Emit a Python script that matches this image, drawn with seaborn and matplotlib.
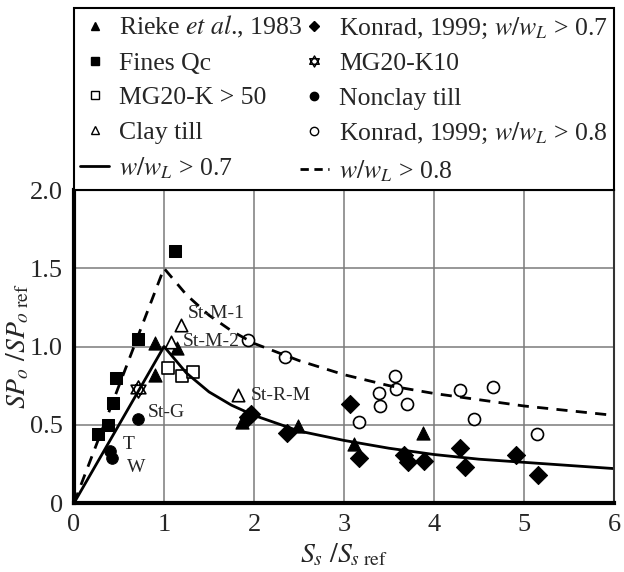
import seaborn as sns
import matplotlib.pyplot as plt
from matplotlib.lines import Line2D
from matplotlib.path import Path

# Datos
rieke_x = [0.90, 1.14, 0.90, 1.87, 2.49, 3.11, 3.88]
rieke_y = [1.02, 0.99, 0.82, 0.52, 0.49, 0.38, 0.45]
fines_x = [0.27, 0.38, 0.43, 0.47, 0.71, 1.12]
fines_y = [0.44, 0.50, 0.64, 0.80, 1.05, 1.61]
mg20k50_x = [1.04, 1.20, 1.32]
mg20k50_y = [0.86, 0.81, 0.84]
clay_x = [1.19, 1.08, 1.82]
clay_y = [1.14, 1.03, 0.69]
clay_names = ['St-M-1', 'St-M-2', 'St-R-M']
konrad07_x = [1.93, 1.97, 2.37, 3.07, 3.17, 3.67, 3.71, 3.89, 4.29, 4.34, 4.91, 5.16]
konrad07_y = [0.55, 0.57, 0.45, 0.63, 0.29, 0.31, 0.26, 0.27, 0.35, 0.23, 0.31, 0.18]
mg20k10_x = [0.71]
mg20k10_y = [0.73]
nonclay_x = [0.71, 0.40, 0.42]
nonclay_y = [0.54, 0.33, 0.29]
nonclay_names = ['St-G', 'T', 'W']
konrad08_x = [1.93, 2.34, 3.17, 3.39, 3.40, 3.57, 3.58, 3.70, 4.29, 4.44, 4.66, 5.14]
konrad08_y = [1.04, 0.93, 0.52, 0.70, 0.62, 0.81, 0.73, 0.63, 0.72, 0.54, 0.74, 0.44]

# Curvas w/wL > 0.7 y w/wL > 0.8
curva07_x = [0, 1.0, 1.25, 1.5, 1.75, 2.0, 2.5, 3.0, 3.5, 4.0, 4.5, 5.0, 5.5, 6.0]
curva07_y = [0, 1.0, 0.83, 0.71, 0.625, 0.56, 0.46, 0.40, 0.35, 0.31, 0.28, 0.26, 0.24, 0.22]
curva08_x = [0, 1.0, 1.25, 1.5, 1.75, 2.0, 2.5, 3.0, 3.5, 4.0, 4.5, 5.0, 5.5, 6.0]
curva08_y = [0, 1.5, 1.33, 1.20, 1.10, 1.02, 0.91, 0.82, 0.75, 0.70, 0.66, 0.62, 0.59, 0.56]

x_ticks = [0, 1, 2, 3, 4, 5, 6]
y_ticks = [0, 0.5, 1.0, 1.5, 2.0]
y_ticklabels = ['0', '0.5', '1.0', '1.5', '2.0']

sns.set_style('white')
plt.rcParams['font.family'] = ['Liberation Serif', 'DejaVu Serif']
plt.rcParams['mathtext.fontset'] = 'stix'

# estrella de David (dos triangulos)
estrella = Path([(0, 1), (-0.866, -0.5), (0.866, -0.5), (0, 1),
                 (0, -1), (-0.866, 0.5), (0.866, 0.5), (0, -1)],
                [Path.MOVETO, Path.LINETO, Path.LINETO, Path.CLOSEPOLY,
                 Path.MOVETO, Path.LINETO, Path.LINETO, Path.CLOSEPOLY])

fig = plt.figure(figsize=(6.24, 5.72), dpi=100)
ax = fig.add_axes([0.1186, 0.1206, 0.8654, 0.5472])

sns.lineplot(x=curva07_x, y=curva07_y, color='black', lw=2, estimator=None, ax=ax)
sns.lineplot(x=curva08_x, y=curva08_y, color='black', lw=2, linestyle=(0, (4, 3)),
             estimator=None, ax=ax)

sns.scatterplot(x=rieke_x, y=rieke_y, marker='^', s=90, color='black', edgecolor='black', ax=ax)
sns.scatterplot(x=fines_x, y=fines_y, marker='s', s=85, color='black', edgecolor='black', ax=ax)
sns.scatterplot(x=mg20k50_x, y=mg20k50_y, marker='s', s=85, facecolor='white',
                edgecolor='black', linewidth=1.2, ax=ax)
sns.scatterplot(x=clay_x, y=clay_y, marker='^', s=80, facecolor='white',
                edgecolor='black', linewidth=1.2, ax=ax)
sns.scatterplot(x=konrad07_x, y=konrad07_y, marker='D', s=85, color='black', edgecolor='black', ax=ax)
sns.scatterplot(x=mg20k10_x, y=mg20k10_y, marker=estrella, s=150, facecolor='white',
                edgecolor='black', linewidth=1.2, ax=ax)
sns.scatterplot(x=nonclay_x, y=nonclay_y, marker='o', s=70, color='black', edgecolor='black', ax=ax)
sns.scatterplot(x=konrad08_x, y=konrad08_y, marker='o', s=75, facecolor='white',
                edgecolor='black', linewidth=1.2, ax=ax)

# etiquetas de los puntos
desplaz_clay = [(5, 8), (8, 0), (9, 0)]
for nombre, x, y, d in zip(clay_names, clay_x, clay_y, desplaz_clay):
    ax.annotate(nombre, (x, y), xytext=d, textcoords='offset points',
                fontsize=14, va='center', ha='left')
desplaz_nonclay = [(7, 4), (9, 5), (11, -7)]
for nombre, x, y, d in zip(nonclay_names, nonclay_x, nonclay_y, desplaz_nonclay):
    ax.annotate(nombre, (x, y), xytext=d, textcoords='offset points',
                fontsize=14, va='center', ha='left')

ax.set_xlim(0, 6)
ax.set_ylim(0, 2.0)
ax.set_xticks(x_ticks)
ax.set_yticks(y_ticks)
ax.set_yticklabels(y_ticklabels)
ax.tick_params(labelsize=19, length=0, pad=8)
ax.grid(True, color='#7a7a7a', lw=1.1)
ax.set_axisbelow(True)
for lado in ['left', 'bottom']:
    ax.spines[lado].set_linewidth(3)
    ax.spines[lado].set_color('black')
for lado in ['right', 'top']:
    ax.spines[lado].set_linewidth(1.5)
    ax.spines[lado].set_color('#333333')

ax.set_xlabel(r'$S_s\ /S_{s\ \mathrm{ref}}$', fontsize=20, labelpad=4)
ax.set_ylabel(r'$SP_o\ /SP_{o\ \mathrm{ref}}$', fontsize=20, labelpad=-1)

# leyenda
handles = [
    Line2D([], [], ls='', marker='^', color='black', ms=6),
    Line2D([], [], ls='', marker='s', color='black', ms=6),
    Line2D([], [], ls='', marker='s', mfc='white', mec='black', ms=6),
    Line2D([], [], ls='', marker='^', mfc='white', mec='black', ms=6),
    Line2D([], [], color='black', lw=2),
    Line2D([], [], ls='', marker='D', color='black', ms=5.5),
    Line2D([], [], ls='', marker=estrella, mfc='white', mec='black', ms=8),
    Line2D([], [], ls='', marker='o', color='black', ms=6),
    Line2D([], [], ls='', marker='o', mfc='white', mec='black', ms=6),
    Line2D([], [], color='black', lw=2, ls=(0, (3, 2))),
]
labels = [
    r'Rieke $\mathit{et\ al}$., 1983',
    'Fines Qc',
    'MG20-K > 50',
    'Clay till',
    r'$w/w_L$ > 0.7',
    r'Konrad, 1999; $w/w_L$ > 0.7',
    'MG20-K10',
    'Nonclay till',
    r'Konrad, 1999; $w/w_L$ > 0.8',
    r'$w/w_L$ > 0.8',
]
leg = ax.legend(handles, labels, ncol=2, loc='lower left', bbox_to_anchor=(0, 1, 1, 0.6),
                mode='expand', borderaxespad=0, fontsize=18.5, handlelength=1.1,
                handletextpad=0.4, labelspacing=0.45, columnspacing=0.6,
                fancybox=False, edgecolor='black', framealpha=1, borderpad=0.25)
leg.get_frame().set_linewidth(1.5)

fig.savefig('out.png', dpi=100)
